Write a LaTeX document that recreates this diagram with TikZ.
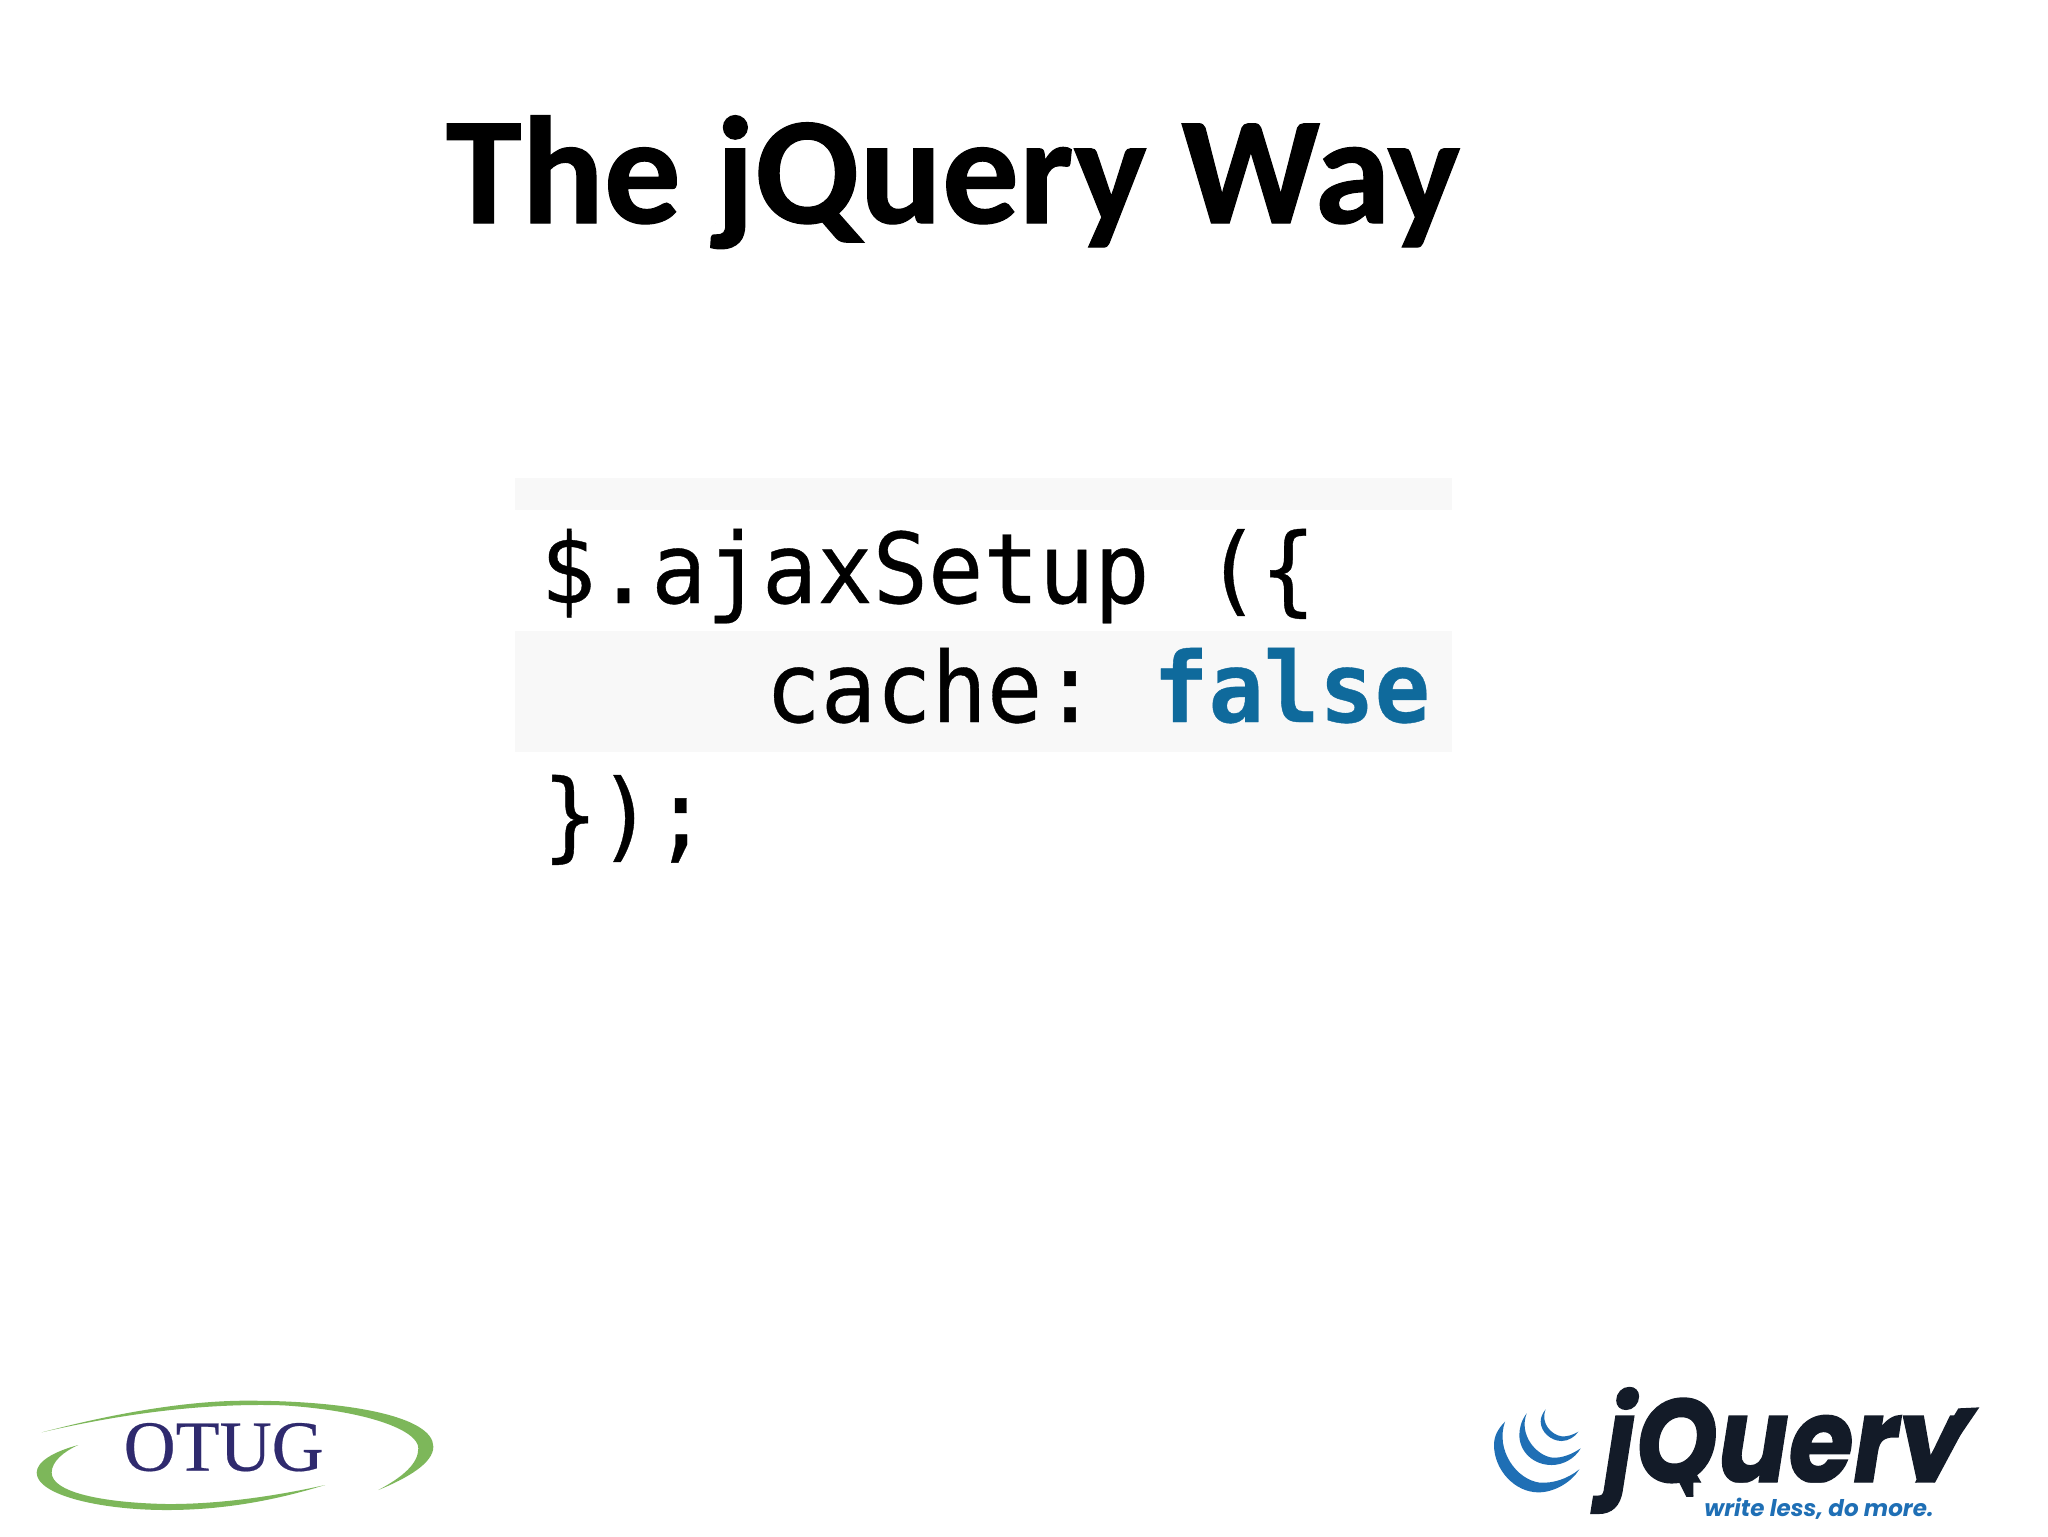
\documentclass[tikz,border=0pt]{standalone}
\usepackage{fontspec}
\setmainfont[BoldFeatures={FakeBold=0.8}]{Carlito}
\newfontfamily\codefont[FakeBold=0.4]{DejaVu Sans Mono}
\newfontfamily\otugfont[FakeBold=0.3]{Liberation Serif}
\newfontfamily\logofont[BoldItalicFeatures={FakeBold=1.2}]{Poppins}
\newfontfamily\tagfont{Poppins}
\definecolor{panel}{HTML}{F8F8F8}
\definecolor{kw}{HTML}{0F6A9C}
\definecolor{swoosh}{HTML}{7DB75A}
\definecolor{navy}{HTML}{2F2A6E}
\definecolor{jqdark}{HTML}{131B28}
\definecolor{jqblue}{HTML}{1F6FB5}
\tikzset{
  code/.style={anchor=base west,inner sep=0pt,yscale=1.06,font=\frenchspacing\codefont\fontsize{46}{46}\selectfont},
  panelbox/.style={fill=panel,draw=none},
  wave/.style={fill=jqblue,draw=none},
  swooshfill/.style={fill=swoosh,draw=none}
}
\begin{document}
\begin{tikzpicture}[x=0.5pt,y=-0.5pt]
\useasboundingbox (0,0) rectangle (2048,1536);
\fill[white] (0,0) rectangle (2048,1536);
\node[anchor=base,inner sep=0pt,font=\fontsize{76.6}{76.6}\selectfont\bfseries] (title) at (953,223) {The jQuery Way};
\fill[panelbox] (515,478) rectangle (1452,510);
\fill[panelbox] (515,631) rectangle (1452,752);
\node[code] (l1) at (540,603) {\$.ajaxSetup (\{};
\node[code] (l2) at (765,722) {cache: \textcolor{kw}{\bfseries false}};
\node[code] (l3) at (542,849) {\});};
% OTUG logo
\begin{scope}[yshift=-690pt,x=0.16667pt,y=-0.16667pt]
\fill[swooshfill] (125,157) .. controls (400,85) and (600,62) .. (740,62) .. controls (1050,62) and (1300,110) .. (1300,200) .. controls (1300,250) and (1220,295) .. (1135,330) .. controls (1210,290) and (1255,250) .. (1255,205) .. controls (1255,150) and (1100,92) .. (850,76) .. controls (600,68) and (350,105) .. (125,157) -- cycle;
\fill[swooshfill] (235,195) .. controls (160,215) and (110,245) .. (110,278) .. controls (110,345) and (300,390) .. (500,390) .. controls (700,390) and (860,350) .. (975,315) .. controls (820,350) and (650,373) .. (500,372) .. controls (300,368) and (155,335) .. (155,278) .. controls (155,245) and (190,215) .. (235,195) -- cycle;
\node[anchor=base,inner sep=0pt,text=navy,font=\otugfont\fontsize{36}{36}\selectfont] (otug) at (671,272) {OTUG};
\end{scope}
% jQuery logo
\begin{scope}[xshift=740pt,yshift=-690pt,x=0.16667pt,y=-0.16667pt]
\fill[wave] (75,125) .. controls (52,148) and (42,170) .. (42,195) .. controls (42,270) and (105,337) .. (175,337) .. controls (225,337) and (275,305) .. (298,268) .. controls (262,297) and (220,310) .. (180,308) .. controls (110,300) and (45,210) .. (75,125) -- cycle;
\fill[wave] (140,100) .. controls (125,120) and (118,142) .. (118,165) .. controls (118,215) and (160,255) .. (215,255) .. controls (250,255) and (285,235) .. (302,205) .. controls (272,225) and (245,234) .. (218,233) .. controls (170,228) and (115,165) .. (140,100) -- cycle;
\fill[wave] (197,88) .. controls (187,100) and (182,112) .. (182,125) .. controls (182,155) and (212,183) .. (245,183) .. controls (265,183) and (285,170) .. (295,155) .. controls (278,165) and (262,170) .. (245,169) .. controls (215,165) and (180,130) .. (197,88) -- cycle;
\begin{scope}
\clip (300,0) -- (1700,0) -- (1700,308) -- (640,308) -- (640,468) -- (300,468) -- cycle;
\node[anchor=base west,inner sep=0pt,text=jqdark,font=\logofont\fontsize{50}{50}\selectfont\bfseries\itshape,xscale=1.05,yscale=1.18] (jq) at (372,306) {jQuery};
\end{scope}
\fill[jqdark] (1435,85) -- (1498,82) -- (1375,262) -- (1330,262) -- cycle;
\node[anchor=base west,inner sep=0pt,text=jqblue,font=\tagfont\fontsize{11.5}{11.5}\selectfont\bfseries\itshape] (tag) at (672,408) {write less, do more.};
\end{scope}
\end{tikzpicture}
\end{document}
